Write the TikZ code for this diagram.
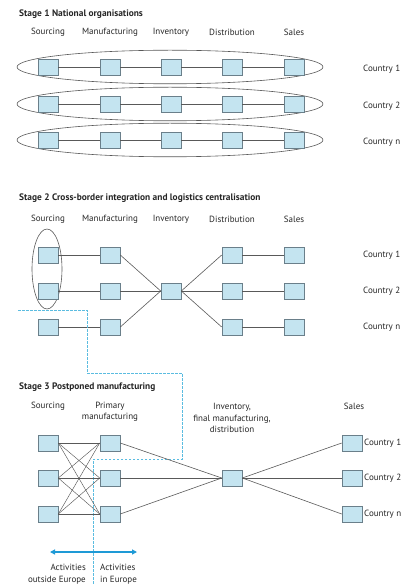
\documentclass[tikz,border=0pt]{standalone}
\usepackage{fontspec}
\setmainfont{PT Sans}
\usetikzlibrary{arrows.meta}
\definecolor{boxfill}{HTML}{C4E4F0}
\definecolor{boxline}{HTML}{6A7F8A}
\definecolor{dashblue}{HTML}{5BBCE0}
\definecolor{arrowblue}{HTML}{1E9AD6}
\definecolor{txt}{HTML}{262626}
\begin{document}
\begin{tikzpicture}[x=1pt,y=-1pt,
  stepbox/.style={draw=boxline, fill=boxfill, minimum width=20pt, minimum height=16pt, inner sep=0pt, line width=0.6pt},
  link/.style={draw=black!65, line width=0.6pt},
  oval/.style={draw=black!65, line width=0.6pt},
  lab/.style={font=\fontsize{9}{11.5}\selectfont, text=txt, inner sep=0pt},
  ttl/.style={font=\fontsize{9.4}{11}\selectfont\bfseries, text=txt, anchor=west, inner sep=0pt},
  dashline/.style={draw=dashblue, line width=0.7pt, dash pattern=on 2.5pt off 1.5pt}]
\useasboundingbox (0,0) rectangle (407,585);

% ---------- Stage 1 ----------
\node[ttl] (t1) at (19,14) {Stage 1 National organisations};
\foreach \n/\x/\t in {a/48/Sourcing, b/110/Manufacturing, c/171/Inventory, d/232/Distribution, e/294/Sales}
  \node[lab] (h1\n) at (\x,32) {\t};
\foreach \r/\y/\c in {1/67/Country 1, 2/104/Country 2, 3/140/Country n}{
  \draw[oval] (170,\y) ellipse [x radius=153, y radius=16.8];
  \foreach \n/\x in {a/48, b/110, c/171, d/232, e/294}
    \node[stepbox] (s1\r\n) at (\x,\y) {};
  \draw[link] (s1\r a) -- (s1\r b) (s1\r b) -- (s1\r c) (s1\r c) -- (s1\r d) (s1\r d) -- (s1\r e);
  \node[lab, anchor=west] (c1\r) at (363,\y+2) {\c};
}

% ---------- Stage 2 ----------
\node[ttl] (t2) at (19,198) {Stage 2 Cross-border integration and logistics centralisation};
\foreach \n/\x/\t in {a/48/Sourcing, b/110/Manufacturing, c/171/Inventory, d/232/Distribution, e/294/Sales}
  \node[lab] (h2\n) at (\x,219) {\t};
\draw[oval] (47,269) ellipse [x radius=15, y radius=40];
\foreach \r/\y/\c in {1/255/Country 1, 2/291/Country 2, 3/327/Country n}{
  \foreach \n/\x in {a/48, b/110, d/232, e/294}
    \node[stepbox] (s2\r\n) at (\x,\y) {};
  \node[lab, anchor=west] (c2\r) at (363,\y) {\c};
}
\node[stepbox] (s2c) at (171,291) {};
\foreach \r in {1,2,3}{
  \draw[link] (s2\r a) -- (s2\r b);
  \draw[link] (s2\r b.east) -- (s2c.west);
  \draw[link] (s2c.east) -- (s2\r d.west);
  \draw[link] (s2\r d) -- (s2\r e);
}

% dashed border
\coordinate (dA) at (18,310);
\coordinate (dB) at (87,310);
\coordinate (dC) at (87,373);
\coordinate (dD) at (182,373);
\coordinate (dE) at (182,459);
\coordinate (dF) at (93,459);
\coordinate (dG) at (93,585);
\draw[dashline] (dA) -- (dB) -- (dC) -- (dD) -- (dE) -- (dF) -- (dG);

% ---------- Stage 3 ----------
\node[ttl] (t3) at (19,387) {Stage 3 Postponed manufacturing};
\node[lab] (h3a) at (48,406) {Sourcing};
\node[lab, align=center] (h3b) at (110,412) {Primary\\manufacturing};
\node[lab, align=center] (h3c) at (232,418) {Inventory,\\final manufacturing,\\distribution};
\node[lab] (h3e) at (354,406) {Sales};
\foreach \r/\y/\c in {1/443/Country 1, 2/478/Country 2, 3/514/Country n}{
  \node[stepbox] (s3\r a) at (48,\y) {};
  \node[stepbox] (s3\r b) at (110,\y) {};
  \node[stepbox] (s3\r e) at (352,\y) {};
  \node[lab, anchor=west] (c3\r) at (364,\y) {\c};
}
\node[stepbox] (s3c) at (232,478) {};
\foreach \r in {1,2,3}{
  \foreach \q in {1,2,3}
    \draw[link, line width=0.45pt] (s3\r a.east) -- (s3\q b.west);
  \draw[link] (s3\r b.east) -- (s3c.west);
  \draw[link] (s3c.east) -- (s3\r e.west);
}

% arrow and labels
\coordinate (arL) at (50,552);
\coordinate (arR) at (137,552);
\draw[arrowblue, line width=1.2pt, {Triangle[length=5pt,width=5pt]}-{Triangle[length=5pt,width=5pt]}] (arL) -- (arR);
\node[lab, align=right, anchor=north east] (aout) at (86,564) {Activities\\outside Europe};
\node[lab, align=left, anchor=north west] (ain) at (100,564) {Activities\\in Europe};
\end{tikzpicture}
\end{document}
